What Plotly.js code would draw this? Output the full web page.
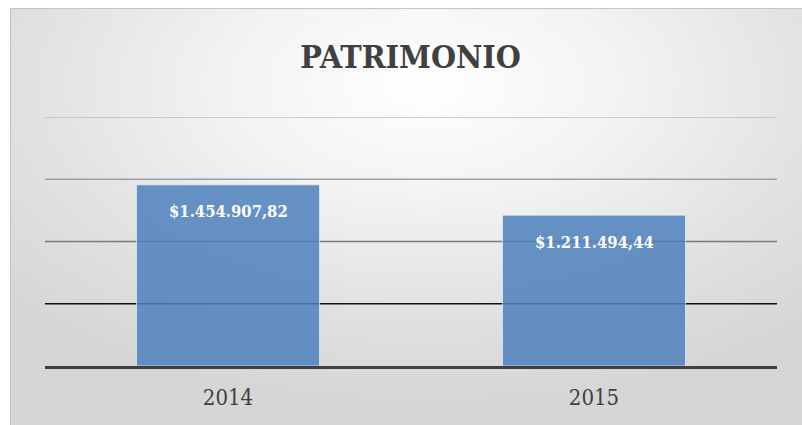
<!DOCTYPE html>
<html>
<head>
<meta charset="utf-8">
<script src="https://cdn.plot.ly/plotly-3.0.1.min.js"></script>
<style>
  html, body { margin: 0; padding: 0; background: #ffffff; width: 802px; height: 425px; overflow: hidden; }
  #bg {
    position: absolute; left: 10px; top: 8px; width: 800px; height: 425px;
    border: 1px solid #c4c4c4; box-sizing: border-box;
    background: radial-gradient(ellipse 70% 75% at 52% 18%, #ffffff 0%, #f3f3f3 35%, #e2e2e2 70%, #d6d6d6 100%);
  }
  #chart { position: absolute; left: 0; top: 0; width: 802px; height: 425px; }
</style>
</head>
<body>
<div id="bg"></div>
<div id="chart"></div>
<script>
const categories = ['2014', '2015'];
const values = [1454907.82, 1211494.44];
const gridValues = [500000, 1000000, 1500000, 2000000];
const gridColors = ['#111111', '#7a7a7a', '#a0a0a0', '#bdbdbd'];

function fmt(v) {
  const parts = v.toFixed(2).split('.');
  const intPart = parts[0].replace(/\B(?=(\d{3})+(?!\d))/g, '.');
  return '$' + intPart + ',' + parts[1];
}
const labels = values.map(fmt);

const serif = '"DejaVu Serif Condensed", "DejaVu Serif", serif';

const trace = {
  type: 'bar',
  x: categories,
  y: values,
  marker: {
    color: 'rgba(79,129,189,0.86)',
    line: { color: 'rgba(255,255,255,0.55)', width: 1 }
  },
  hoverinfo: 'skip'
};

const shapes = gridValues.map((g, i) => ({
  type: 'line', xref: 'paper', yref: 'y',
  x0: 0, x1: 1, y0: g, y1: g,
  line: { color: gridColors[i], width: 1.5 },
  layer: 'below'
}));

// category axis: annotation x given by category index
const annotations = categories.map((c, i) => ({
  x: i, y: values[i], xref: 'x', yref: 'y',
  text: '<b>' + labels[i] + '</b>',
  showarrow: false, yanchor: 'middle', yshift: -27,
  font: { family: serif, size: 16.5, color: '#ffffff' }
}));

const layout = {
  width: 802, height: 425,
  margin: { l: 45, r: 25, t: 117, b: 59 },
  paper_bgcolor: 'rgba(0,0,0,0)',
  plot_bgcolor: 'rgba(0,0,0,0)',
  title: {
    text: '<b>PATRIMONIO</b>',
    x: 0.512, xanchor: 'center',
    y: 0.866, yanchor: 'middle',
    font: { family: serif, size: 32, color: '#404040' }
  },
  bargap: 0.5,
  showlegend: false,
  xaxis: {
    type: 'category',
    range: [-0.5, categories.length - 0.5],
    showgrid: false, zeroline: false,
    showline: true, linecolor: '#404040', linewidth: 3,
    ticks: '', ticklabelstandoff: 10,
    tickfont: { family: serif, size: 22, color: '#404040' },
    fixedrange: true
  },
  yaxis: {
    range: [0, 2000000],
    showgrid: false, zeroline: false, showline: false,
    showticklabels: false, ticks: '',
    fixedrange: true
  },
  shapes: shapes,
  annotations: annotations
};

Plotly.newPlot('chart', [trace], layout, { displayModeBar: false, staticPlot: true });
</script>
</body>
</html>
